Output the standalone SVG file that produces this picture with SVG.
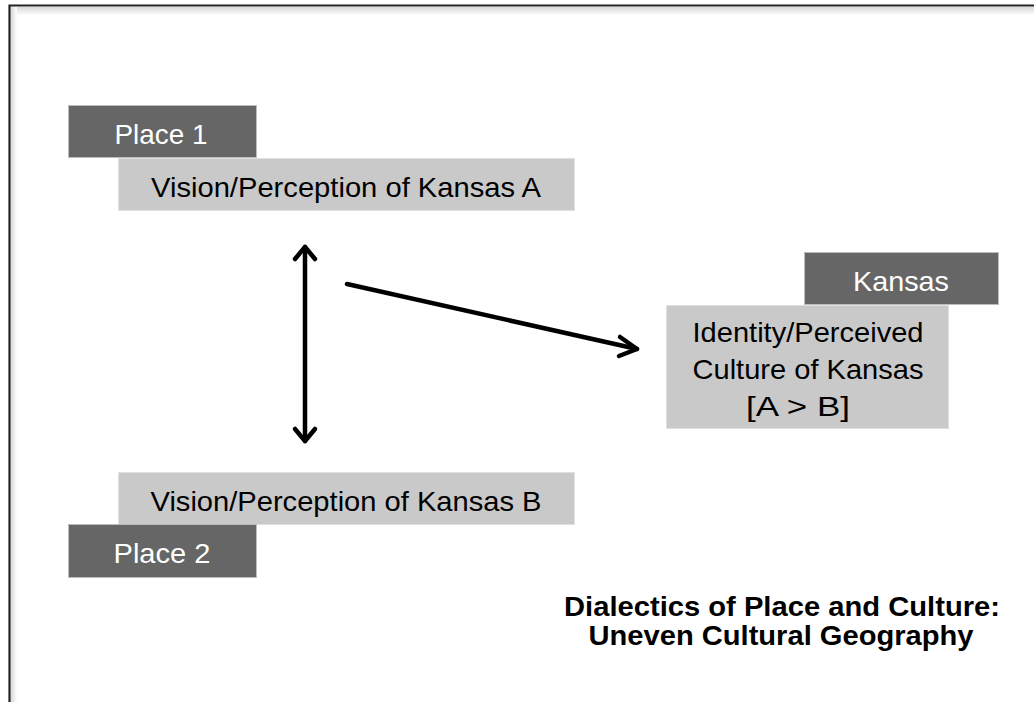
<svg xmlns="http://www.w3.org/2000/svg" width="1034" height="702" viewBox="0 0 1034 702">
<defs>
<style>
.dark{fill:#666666;stroke:#bdbdbd;stroke-width:1}
.light{fill:#c9c9c9;stroke:#e0e0e0;stroke-width:1}
.wt{font-family:"Liberation Sans",Arial,sans-serif;font-size:28.5px;fill:#ffffff;text-anchor:middle}
.bt{font-family:"Liberation Sans",Arial,sans-serif;font-size:28.5px;fill:#000000;text-anchor:middle}
.title{font-family:"Liberation Sans",Arial,sans-serif;font-size:27px;font-weight:bold;fill:#000000;text-anchor:middle}
.conn{stroke:#000;stroke-width:4.5;fill:none;stroke-linecap:round;stroke-linejoin:round}
</style>
<linearGradient id="shT" x1="0" y1="0" x2="0" y2="1"><stop offset="0" stop-color="#d8d8d8"/><stop offset="1" stop-color="#ffffff"/></linearGradient>
<linearGradient id="shL" x1="0" y1="0" x2="1" y2="0"><stop offset="0" stop-color="#d8d8d8"/><stop offset="1" stop-color="#ffffff"/></linearGradient>
</defs>
<rect width="1034" height="702" fill="#ffffff"/>
<g id="frame">
<rect x="11" y="7" width="1023" height="8" fill="url(#shT)"/>
<rect x="11" y="7" width="6" height="695" fill="url(#shL)"/>
<path d="M9.5,702 V5.5 H1034" fill="none" stroke="#222222" stroke-width="2.2"/>
</g>
<g id="connectors">
<path class="conn" d="M305,247 V441"/>
<path class="conn" d="M295,259 L305,247 L315,259"/>
<path class="conn" d="M295,429 L305,441 L315,429"/>
<path class="conn" d="M347,284 L637,349"/>
<path class="conn" d="M620,337 L637,349 L619,356"/>
</g>
<g id="visionA">
<rect class="light" x="118.5" y="158.5" width="456" height="52"/>
<text class="bt" x="346" y="197" textLength="390" lengthAdjust="spacingAndGlyphs">Vision/Perception of Kansas A</text>
</g>
<g id="place1">
<rect class="dark" x="68.5" y="105.5" width="188" height="52"/>
<text class="wt" x="161" y="144" textLength="93" lengthAdjust="spacingAndGlyphs">Place 1</text>
</g>
<g id="visionB">
<rect class="light" x="118.5" y="472.5" width="456" height="52"/>
<text class="bt" x="346" y="511" textLength="391" lengthAdjust="spacingAndGlyphs">Vision/Perception of Kansas B</text>
</g>
<g id="place2">
<rect class="dark" x="68.5" y="524.5" width="188" height="53"/>
<text class="wt" x="162" y="563" textLength="97" lengthAdjust="spacingAndGlyphs">Place 2</text>
</g>
<g id="identity">
<rect class="light" x="666.5" y="305.5" width="282" height="123"/>
<text class="bt" x="808" y="342" textLength="231" lengthAdjust="spacingAndGlyphs">Identity/Perceived</text>
<text class="bt" x="808" y="379" textLength="231" lengthAdjust="spacingAndGlyphs">Culture of Kansas</text>
<text class="bt" x="798" y="416" textLength="104" lengthAdjust="spacingAndGlyphs">[A &gt; B]</text>
</g>
<g id="kansas">
<rect class="dark" x="804.5" y="252.5" width="194" height="52"/>
<text class="wt" x="901" y="291" textLength="96" lengthAdjust="spacingAndGlyphs">Kansas</text>
</g>
<g id="title">
<text class="title" x="782" y="616" textLength="436" lengthAdjust="spacingAndGlyphs">Dialectics of Place and Culture:</text>
<text class="title" x="781" y="645" textLength="385" lengthAdjust="spacingAndGlyphs">Uneven Cultural Geography</text>
</g>
</svg>
